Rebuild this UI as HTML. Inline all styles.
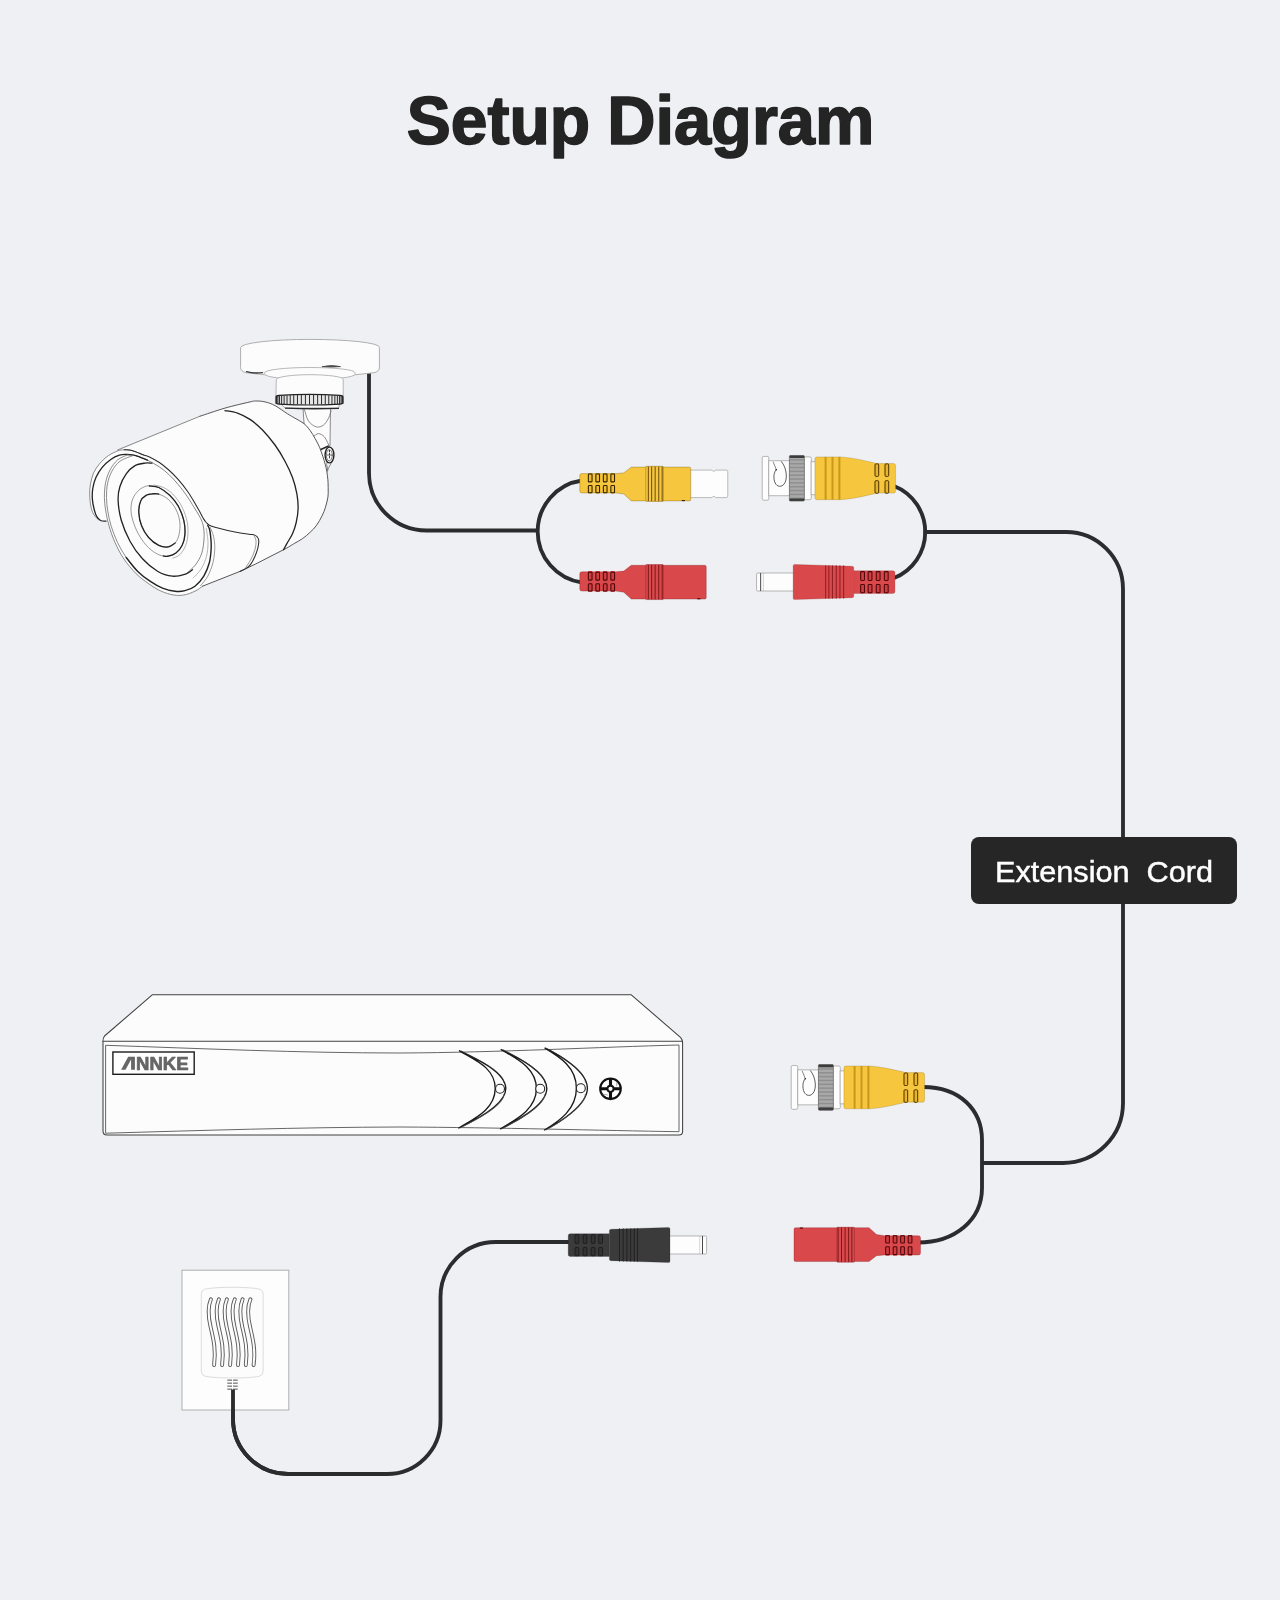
<!DOCTYPE html>
<html><head><meta charset="utf-8">
<style>
html,body{margin:0;padding:0;background:#eef0f3;}
body{width:1280px;height:1600px;overflow:hidden;font-family:"Liberation Sans",sans-serif;}
svg{display:block;position:absolute;left:0;top:0;}
</style></head><body>
<svg width="1280" height="1600" viewBox="0 0 1280 1600">
<rect width="1280" height="1600" fill="#eef0f3"/>
<!--TITLE-->
<g font-family="Liberation Sans, sans-serif" font-weight="700" font-size="68.5" fill="#242424" stroke="#242424" stroke-width="1.6" stroke-linejoin="round">
<text id="t1" transform="translate(406.8,143.6) scale(0.964,1)">Setup</text>
<text id="t2" transform="translate(607.2,143.6) scale(0.975,1)">Diagram</text>
</g>
<!--CABLES-->
<g id="cables" fill="none" stroke="#2b2c2e" stroke-width="3.85" stroke-linecap="butt" stroke-linejoin="round">
<path d="M369 373 V473 A57.5 57.5 0 0 0 426.5 530.5 H538"/>
<path d="M582 480.5 A51.5 51.5 0 0 0 582 582.5" id="loopL"/>
<path d="M894 486 A49.5 49.5 0 0 1 894 578" id="loopR"/>
<path d="M923.5 532 H1066 A57 57 0 0 1 1123 589 V1103 A60 60 0 0 1 1063 1163 H982"/>
<path d="M923 1087 C960 1087 982 1110 982 1140 V1188 C982 1220 955 1242.5 918 1242.5"/>
<path d="M233 1389 V1419 A55 55 0 0 0 288 1474 H387 A53.5 53.5 0 0 0 440.5 1420.500 V1297 A55 55 0 0 1 495.5 1242 H570"/>
</g>
<!--LABEL-->
<rect x="971" y="837" width="266" height="67" rx="8" fill="#262626"/>
<text id="lbl" transform="translate(1104,881.8) scale(1.009,1)" filter="url(#idf)" text-anchor="middle" font-family="Liberation Sans, sans-serif" font-size="30.4" fill="#fff" stroke="#fff" stroke-width="0.45" xml:space="preserve">Extension  Cord</text>
<!--CAMERA-->
<g id="cam" fill="none" stroke-linecap="round" stroke-linejoin="round"><path d="M303 408.5L304.5 430L326 472L328 470.5L326.6 464.5L330 445L330.5 408.5Z" fill="#fcfcfc" stroke="#6e6e6e" stroke-width="0.8"/><path d="M304.4 409.5C305.0 411.2 306.4 417.3 307.9 420.0C309.4 422.7 311.6 424.5 313.5 425.6C315.4 426.8 317.3 427.3 319.1 427.0C321.0 426.8 323.1 425.6 324.8 423.9C326.4 422.3 327.9 419.4 329.0 417.2C330.0 415.0 330.7 411.9 331.1 410.9" stroke="#6e6e6e" stroke-width="0.8"/><path d="M313.5 436.5C314.3 436.0 316.7 433.6 318.4 433.6C320.2 433.6 322.5 435.0 324.1 436.5C325.6 437.9 326.7 440.8 327.6 442.5C328.5 444.2 329.1 446.0 329.4 446.7" stroke="#6e6e6e" stroke-width="0.8"/><path d="M332 461.5L327 471" stroke="#6e6e6e" stroke-width="0.8"/><ellipse cx="329.5" cy="455" rx="4.4" ry="7.9" fill="#fcfcfc" stroke="#222" stroke-width="1.4"/><ellipse cx="329.3" cy="455.2" rx="3" ry="5.6" fill="none" stroke="#555" stroke-width="0.8"/><path d="M329.5 450.5V459.5" stroke="#333" stroke-width="1" stroke-dasharray="1.4 1.6"/><path d="M327.3 455H331.6" stroke="#444" stroke-width="0.8"/><path d="M320.3 449.7L328 446.3" stroke="#2a2a2a" stroke-width="1.8"/><path d="M281.5 404L339.5 404L338.6 408L285.4 408Z" fill="#fcfcfc" stroke="#6e6e6e" stroke-width="0.6"/><path d="M285.6 408.2Q312 409.2 338.4 408.4" stroke="#2a2a2a" stroke-width="1.3"/><path d="M240.6 347.2A69.4 7.8 0 0 1 379.4 347.2V367.8Q379.4 371.4 374 372.7Q310 382 246 372.7Q240.6 371.4 240.6 367.8Z" fill="#fcfcfc" stroke="#a6a6a6" stroke-width="0.9"/><path d="M264.4 372.5A45.3 5 0 0 1 355 372.5V374.2A45.3 5.4 0 0 1 264.4 374.2Z" fill="#fcfcfc" stroke="#a6a6a6" stroke-width="0.8"/><path d="M276.3 379.3A33.45 4.6 0 0 1 343.2 379.3V396H276.3Z" fill="#fcfcfc" stroke="#a6a6a6" stroke-width="0.8"/><path d="M276.2 397.2Q276.2 395.6 279 395.3Q309.5 393.3 340 395.3Q342.8 395.6 342.8 397.2V402.4Q342.8 403.9 340 404.1Q309.5 405.9 279 404.1Q276.2 403.9 276.2 402.4Z" fill="#e6e6e6" stroke="#222" stroke-width="1.25"/><path d="M276.08 395.80V403.88M276.76 395.76V403.91M277.93 395.70V403.96M279.56 395.62V404.02M281.64 395.52V404.10M284.14 395.42V404.19M287.02 395.31V404.28M290.23 395.20V404.36M293.73 395.10V404.44M297.46 395.02V404.51M301.37 394.95V404.56M305.41 394.91V404.59M309.50 394.90V404.60M313.59 394.91V404.59M317.63 394.95V404.56M321.54 395.02V404.51M325.27 395.10V404.44M328.77 395.20V404.36M331.98 395.31V404.28M334.86 395.42V404.19M337.36 395.52V404.10M339.44 395.62V404.02M341.07 395.70V403.96M342.24 395.76V403.91M342.92 395.80V403.88" stroke="#2a2a2a" stroke-width="1.0" stroke-linecap="butt"/><path d="M322.5 366.6Q331.5 364.4 340.5 366.6Q331.5 367.6 322.5 366.6Z" fill="#555" stroke="#444" stroke-width="0.8"/><path d="M246.5 371.6Q254 373.8 262.5 372.6" stroke="#3a3a3a" stroke-width="1.3"/><path d="M106.0 521.4C105.1 521.3 102.0 521.0 100.6 520.8C99.2 520.5 98.7 520.8 97.5 519.7C96.3 518.6 94.7 516.5 93.6 514.2C92.5 512.0 91.5 509.6 90.9 506.4C90.2 503.1 89.8 498.5 89.7 494.7C89.6 490.9 89.8 487.4 90.5 483.8C91.2 480.1 92.1 476.2 93.6 472.8C95.2 469.4 97.4 466.3 99.8 463.4C102.3 460.6 105.4 457.7 108.4 455.6C111.4 453.5 116.2 451.7 117.8 450.9 L167.5 430.0 L200.0 416.2L200.0 416.2C204.2 414.9 216.7 410.5 225.0 408.1C233.3 405.7 244.8 403.1 250.0 401.9C255.2 400.7 253.8 401.0 256.2 401.0C258.8 401.0 261.9 401.1 265.0 401.9C268.1 402.6 271.2 403.6 275.0 405.6C278.8 407.6 284.2 411.7 287.5 413.8C290.8 415.8 292.0 416.5 294.8 418.1C297.5 419.8 301.4 421.5 304.0 423.6C306.6 425.7 308.4 428.2 310.2 430.6C312.1 433.1 313.4 435.5 315.0 438.4C316.6 441.2 318.5 444.8 319.8 447.8C321.0 450.8 321.8 453.6 322.8 456.4C323.7 459.1 324.6 461.8 325.2 464.2C325.9 466.7 326.3 468.7 326.8 471.2C327.2 473.8 327.6 476.6 327.9 479.8C328.1 482.9 328.2 487.1 328.2 490.0C328.2 492.9 328.3 494.4 327.9 497.2C327.4 500.1 326.5 504.1 325.5 507.2C324.5 510.4 323.5 512.9 322.0 515.9C320.5 518.9 318.6 522.5 316.6 525.2C314.7 528.0 312.6 530.0 310.2 532.2C307.9 534.5 305.1 536.8 302.5 538.6C299.9 540.5 297.4 541.7 294.8 543.2C292.1 544.8 288.2 547.2 286.9 548.0 L255.6 564.0 L240.0 571.4 L202.5 586.2L202.5 586.2C201.2 587.1 198.1 589.8 195.0 591.2C191.9 592.7 187.3 594.4 183.8 595.0C180.2 595.6 177.5 595.6 173.8 595.0C170.0 594.4 165.4 593.1 161.2 591.2C157.1 589.4 152.9 586.7 148.8 583.8C144.6 580.8 140.4 577.9 136.2 573.8C132.1 569.6 127.3 564.0 123.8 558.8C120.2 553.5 117.5 548.1 115.0 542.5C112.5 536.9 110.1 528.7 108.8 525.0C107.4 521.3 107.2 521.2 106.9 520.5Z" fill="#fcfcfc" stroke="none"/><path d="M117.5 450.0 L200.0 416.2" stroke="#6e6e6e" stroke-width="0.8"/><path d="M200.0 416.2C204.2 414.9 216.7 410.5 225.0 408.1C233.3 405.7 244.8 403.1 250.0 401.9C255.2 400.7 253.8 401.0 256.2 401.0C258.8 401.0 261.9 401.1 265.0 401.9C268.1 402.6 271.2 403.6 275.0 405.6C278.8 407.6 284.2 411.7 287.5 413.8C290.8 415.8 292.0 416.5 294.8 418.1C297.5 419.8 301.4 421.5 304.0 423.6C306.6 425.7 308.4 428.2 310.2 430.6C312.1 433.1 313.4 435.5 315.0 438.4C316.6 441.2 318.5 444.8 319.8 447.8C321.0 450.8 321.8 453.6 322.8 456.4C323.7 459.1 324.6 461.8 325.2 464.2C325.9 466.7 326.3 468.7 326.8 471.2C327.2 473.8 327.6 476.6 327.9 479.8C328.1 482.9 328.2 487.1 328.2 490.0C328.2 492.9 328.3 494.4 327.9 497.2C327.4 500.1 326.5 504.1 325.5 507.2C324.5 510.4 323.5 512.9 322.0 515.9C320.5 518.9 318.6 522.5 316.6 525.2C314.7 528.0 312.6 530.0 310.2 532.2C307.9 534.5 305.1 536.8 302.5 538.6C299.9 540.5 297.4 541.7 294.8 543.2C292.1 544.8 288.2 547.2 286.9 548.0 L255.6 564.0 L240.0 571.4 L202.5 586.2" stroke="#444" stroke-width="0.9"/><path d="M225.0 410.6C227.1 411.0 233.3 411.7 237.5 413.1C241.7 414.6 245.8 416.6 250.0 419.4C254.2 422.2 258.3 425.7 262.5 430.0C266.7 434.3 271.2 439.8 275.0 445.0C278.8 450.2 282.1 455.8 285.0 461.2C287.9 466.7 290.5 472.1 292.5 477.5C294.5 482.9 295.9 488.5 296.9 493.8C297.8 499.0 298.2 504.0 298.1 508.8C298.0 513.5 297.2 518.3 296.2 522.5C295.3 526.7 294.0 530.4 292.5 533.8C291.0 537.1 289.0 539.8 287.5 542.5C286.0 545.2 284.2 548.5 283.5 549.8" stroke="#222" stroke-width="1.3"/><path d="M98.8 520.2C97.9 519.2 94.9 516.6 93.6 514.2C92.3 511.9 91.5 509.6 90.9 506.4C90.2 503.1 89.8 498.5 89.7 494.7C89.6 490.9 89.8 487.4 90.5 483.8C91.2 480.1 92.1 476.2 93.6 472.8C95.2 469.4 97.4 466.3 99.8 463.4C102.3 460.6 105.4 457.7 108.4 455.6C111.4 453.5 115.2 451.9 117.8 450.9C120.4 450.0 121.7 449.8 124.1 449.8C126.4 449.7 128.6 449.6 131.9 450.5C135.1 451.4 141.7 454.1 143.6 454.9" stroke="#6e6e6e" stroke-width="0.8"/><path d="M124.1 449.8C125.4 449.9 128.6 449.6 131.9 450.5C135.1 451.4 140.6 453.8 143.6 454.9C146.6 456.0 147.4 456.0 150.0 457.2C152.6 458.5 156.2 460.4 159.4 462.5C162.5 464.6 165.6 467.2 168.8 470.0C171.9 472.8 175.0 475.8 178.1 479.4C181.2 482.9 184.9 487.6 187.5 491.2C190.1 494.9 191.9 498.1 193.8 501.2C195.6 504.4 197.2 507.2 198.8 510.0C200.3 512.8 201.9 516.0 203.1 518.1C204.4 520.2 205.2 521.3 206.2 522.5C207.3 523.7 207.9 524.5 209.4 525.2C210.8 526.0 210.3 526.0 215.0 527.2C219.7 528.5 231.2 531.3 237.5 532.5C243.8 533.7 249.3 534.0 252.5 534.6C255.7 535.3 255.8 535.5 256.9 536.5C257.9 537.5 258.6 538.8 258.8 540.6C258.9 542.5 258.5 545.1 257.9 547.8C257.2 550.4 256.2 553.5 255.0 556.2C253.8 559.0 252.1 562.4 250.6 564.4C249.2 566.4 248.0 567.2 246.2 568.4C244.5 569.5 241.0 570.9 240.0 571.4" stroke="#2c2c2c" stroke-width="1.05"/><path d="M127.2 454.5C128.6 454.7 132.4 454.7 135.8 455.6C139.1 456.6 143.6 458.4 147.5 460.2C151.4 462.1 155.8 464.5 159.4 466.9C162.9 469.2 165.6 471.5 168.8 474.4C171.9 477.3 175.0 480.6 178.1 484.4C181.2 488.1 184.9 493.1 187.5 496.9C190.1 500.6 191.9 503.9 193.8 506.9C195.6 509.9 197.4 512.6 198.8 515.0C200.1 517.4 201.1 519.3 201.9 521.2C202.6 523.2 203.0 524.2 203.4 526.9C203.8 529.6 204.4 533.1 204.1 537.5C203.9 541.9 203.2 548.6 201.8 553.1C200.3 557.7 198.1 561.3 195.5 564.8C192.9 568.2 187.8 572.2 186.2 573.8" stroke="#6a6a6a" stroke-width="0.8"/><path d="M106.0 521.2C105.1 521.1 102.2 521.3 100.6 520.5C99.1 519.7 97.8 518.3 96.8 516.6C95.7 514.9 95.1 513.1 94.4 510.2C93.6 507.4 92.6 503.0 92.4 499.4C92.1 495.7 92.2 492.0 92.8 488.4C93.4 484.7 94.4 481.0 95.9 477.5C97.5 474.0 99.7 470.4 102.2 467.4C104.7 464.4 107.9 461.5 110.8 459.5C113.6 457.5 116.6 456.1 119.4 455.2C122.1 454.4 124.5 454.4 127.2 454.5C129.9 454.6 132.4 454.7 135.8 455.6C139.1 456.6 145.5 459.5 147.5 460.2" stroke="#222" stroke-width="1.3"/><path d="M254.0 535.8C254.3 536.6 255.8 538.4 256.0 540.6C256.2 542.9 255.8 546.4 255.0 549.4C254.2 552.4 252.9 555.6 251.2 558.8C249.6 561.9 246.2 566.9 245.2 568.5" stroke="#6e6e6e" stroke-width="0.7"/><path d="M128.1 454.6C126.4 455.5 120.5 457.4 117.5 460.0C114.5 462.6 112.0 466.2 110.0 470.0C108.0 473.8 106.6 477.9 105.6 482.5C104.7 487.1 104.4 492.9 104.4 497.5C104.4 502.1 104.9 505.4 105.6 510.0C106.4 514.6 107.2 519.6 108.8 525.0C110.3 530.4 112.5 536.9 115.0 542.5C117.5 548.1 120.2 553.5 123.8 558.8C127.3 564.0 132.1 569.6 136.2 573.8C140.4 577.9 144.6 580.8 148.8 583.8C152.9 586.7 157.1 589.4 161.2 591.2C165.4 593.1 170.0 594.4 173.8 595.0C177.5 595.6 180.2 595.6 183.8 595.0C187.3 594.4 191.9 592.7 195.0 591.2C198.1 589.8 201.2 587.1 202.5 586.2" stroke="#6e6e6e" stroke-width="0.8"/><path d="M133.8 455.2C131.5 456.2 123.6 458.6 120.0 461.2C116.4 463.9 114.0 467.5 111.9 471.2C109.8 475.0 108.4 479.4 107.5 483.8C106.6 488.1 106.5 492.9 106.5 497.5C106.5 502.1 107.0 506.5 107.8 511.2C108.5 516.0 109.6 521.0 111.2 526.2C112.9 531.5 115.0 537.3 117.5 542.5C120.0 547.7 122.9 552.7 126.2 557.5C129.6 562.3 135.6 569.0 137.5 571.2" stroke="#6e6e6e" stroke-width="0.8"/><path d="M126.2 557.5C128.1 559.8 133.5 567.3 137.5 571.2C141.5 575.2 145.8 578.4 150.0 581.2C154.2 584.1 158.3 586.5 162.5 588.1C166.7 589.8 171.2 590.8 175.0 591.2C178.8 591.7 181.7 591.5 185.0 590.6C188.3 589.8 191.9 588.6 195.0 586.2C198.1 583.9 201.4 580.2 203.8 576.2C206.1 572.3 208.1 567.3 209.4 562.5C210.6 557.7 211.0 551.9 211.2 547.5C211.5 543.1 210.9 539.4 210.6 536.2C210.3 533.1 209.9 530.5 209.4 528.8C208.9 527.0 208.0 526.0 207.8 525.5" stroke="#222" stroke-width="1.4"/><path d="M210.2 527.5C210.8 529.0 212.8 532.9 213.5 536.2C214.2 539.6 214.8 543.1 214.8 547.5C214.7 551.9 214.2 557.7 213.0 562.5C211.8 567.3 209.8 572.4 207.8 576.2C205.7 580.1 201.8 584.1 200.6 585.6" stroke="#6e6e6e" stroke-width="0.7"/><path d="M206.2 528.1C206.5 530.5 208.0 537.8 208.0 542.5C208.0 547.2 207.6 551.9 206.5 556.2C205.4 560.6 203.5 565.1 201.2 568.8C199.0 572.4 194.5 576.6 193.1 578.1" stroke="#888" stroke-width="0.6"/><path d="M151.9 463.2C150.7 463.2 147.8 462.7 145.0 463.1C142.2 463.5 138.1 463.9 135.0 465.6C131.9 467.4 128.8 470.3 126.2 473.8C123.8 477.2 121.4 481.9 120.0 486.2C118.6 490.6 117.9 494.4 118.1 500.0C118.3 505.6 119.3 513.1 121.2 520.0C123.2 526.9 126.5 534.8 130.0 541.2C133.5 547.7 137.9 553.8 142.5 558.8C147.1 563.8 152.5 568.3 157.5 571.2C162.5 574.2 167.7 575.8 172.5 576.2C177.3 576.7 182.9 574.8 186.2 573.8C189.6 572.7 191.5 570.4 192.5 569.8" stroke="#222" stroke-width="1.3"/><path d="M149.4 485.9C151.7 486.1 155.4 485.9 158.8 487.5C162.1 489.1 166.4 492.2 169.7 495.3C172.9 498.4 175.9 502.1 178.3 506.2C180.6 510.4 182.6 515.6 183.8 520.3C184.9 525.0 185.2 530.2 184.9 534.4C184.7 538.5 183.7 542.2 182.2 545.3C180.7 548.4 178.3 551.3 175.9 553.1C173.6 554.9 171.0 556.0 168.1 556.2C165.3 556.5 162.0 556.1 158.8 554.7C155.5 553.3 151.7 550.7 148.6 547.7C145.5 544.7 142.5 540.8 140.0 536.7C137.5 532.7 135.2 527.7 133.8 523.4C132.3 519.1 131.2 515.0 131.0 510.9C130.8 506.9 131.3 502.6 132.6 499.2C133.8 495.8 136.4 492.7 138.4 490.6C140.5 488.5 142.9 487.5 144.7 486.7C146.5 485.9 147.0 485.8 149.4 485.9Z" stroke="#777" stroke-width="0.75"/><path d="M149.4 485.9C150.9 486.2 155.4 485.9 158.8 487.5C162.1 489.1 166.4 492.2 169.7 495.3C172.9 498.4 175.9 502.1 178.3 506.2C180.6 510.4 182.6 515.6 183.8 520.3C184.9 525.0 185.2 530.2 184.9 534.4C184.7 538.5 183.7 542.2 182.2 545.3C180.7 548.4 178.3 551.3 175.9 553.1C173.6 554.9 170.2 555.8 168.1 556.2C166.0 556.7 164.2 556.0 163.4 555.9" stroke="#222" stroke-width="1.3"/><path d="M154.1 485.0C155.6 485.4 160.3 486.0 163.4 487.5C166.6 489.0 169.9 491.2 172.8 494.1C175.7 497.1 178.7 501.0 181.0 505.1C183.3 509.2 185.3 514.1 186.5 518.8C187.7 523.4 188.2 528.4 188.0 532.8C187.9 537.2 187.1 541.7 185.7 545.3C184.3 549.0 182.0 552.5 179.8 554.7C177.7 556.8 174.0 557.6 172.8 558.2" stroke="#888" stroke-width="0.65"/><path d="M152.5 493.8C154.6 493.6 156.1 493.2 158.8 494.1C161.4 495.1 165.3 496.7 168.1 499.2C171.0 501.8 174.0 505.6 175.9 509.4C177.9 513.2 179.3 517.7 179.8 521.9C180.4 526.0 179.8 530.9 179.1 534.4C178.3 537.9 177.0 540.9 175.2 543.0C173.3 545.1 170.9 546.5 168.1 546.9C165.4 547.3 162.0 546.9 158.8 545.3C155.5 543.8 151.5 540.8 148.6 537.5C145.7 534.2 143.2 529.9 141.6 525.8C139.9 521.6 139.0 516.7 138.8 512.5C138.7 508.3 139.5 503.6 140.8 500.8C142.0 497.9 144.3 496.5 146.2 495.3C148.2 494.1 150.4 493.9 152.5 493.8Z" stroke="#777" stroke-width="0.75"/><path d="M158.8 494.1C157.7 494.1 154.6 493.6 152.5 493.8C150.4 493.9 148.2 494.1 146.2 495.3C144.3 496.5 142.0 497.9 140.8 500.8C139.5 503.6 138.7 508.3 138.8 512.5C139.0 516.7 139.9 521.6 141.6 525.8C143.2 529.9 145.7 534.2 148.6 537.5C151.5 540.8 155.5 543.8 158.8 545.3C162.0 546.9 165.4 547.3 168.1 546.9C170.9 546.5 174.0 543.6 175.2 543.0" stroke="#222" stroke-width="1.3"/></g>
<!--CONNECTORS-->
<defs><filter id="idf" x="-5%" y="-20%" width="110%" height="140%" color-interpolation-filters="sRGB"><feOffset dx="0" dy="0"/></filter><g id="fy"><rect x="8.2" y="-10.9" width="4.5" height="2" rx="0.8" fill="#f6c63e"/><rect x="8.2" y="7.8" width="4.5" height="2" rx="0.8" fill="#f6c63e"/><rect x="15.700000000000001" y="-10.9" width="4.5" height="2" rx="0.8" fill="#f6c63e"/><rect x="15.700000000000001" y="7.8" width="4.5" height="2" rx="0.8" fill="#f6c63e"/><rect x="23.200000000000003" y="-10.9" width="4.5" height="2" rx="0.8" fill="#f6c63e"/><rect x="23.200000000000003" y="7.8" width="4.5" height="2" rx="0.8" fill="#f6c63e"/><rect x="30.700000000000003" y="-10.9" width="4.5" height="2" rx="0.8" fill="#f6c63e"/><rect x="30.700000000000003" y="7.8" width="4.5" height="2" rx="0.8" fill="#f6c63e"/><path d="M2 -10.2H36L44 -10.9L51.5 -16.7H109.5Q111 -16.7 111 -15.2V15.6Q111 17.1 109.5 17.1H51.5L44 10.2L36 9.1H2Q0 9.1 0 7.1V-8.2Q0 -10.2 2 -10.2Z" fill="#f6c63e" stroke="#4f3803" stroke-width="0.5" stroke-opacity="0.55"/><rect x="66" y="-17.5" width="17.6" height="35.1" rx="0.8" fill="#f6c63e" stroke="#4f3803" stroke-width="0.5" stroke-opacity="0.6"/><path d="M68.6 -17.2V17.3" stroke="#4f3803" stroke-width="0.85"/><path d="M71.9 -17.2V17.3" stroke="#4f3803" stroke-width="0.85"/><path d="M75.4 -17.2V17.3" stroke="#4f3803" stroke-width="0.85"/><path d="M79.0 -17.2V17.3" stroke="#4f3803" stroke-width="0.85"/><path d="M82.4 -17.2V17.3" stroke="#4f3803" stroke-width="0.85"/><rect x="8.6" y="-9.7" width="3.7" height="7.8" rx="0.7" fill="#efbb30" stroke="#2e2000" stroke-width="1.05"/><rect x="8.6" y="1.8" width="3.7" height="7.2" rx="0.7" fill="#efbb30" stroke="#2e2000" stroke-width="1.05"/><rect x="16.1" y="-9.7" width="3.7" height="7.8" rx="0.7" fill="#efbb30" stroke="#2e2000" stroke-width="1.05"/><rect x="16.1" y="1.8" width="3.7" height="7.2" rx="0.7" fill="#efbb30" stroke="#2e2000" stroke-width="1.05"/><rect x="23.6" y="-9.7" width="3.7" height="7.8" rx="0.7" fill="#efbb30" stroke="#2e2000" stroke-width="1.05"/><rect x="23.6" y="1.8" width="3.7" height="7.2" rx="0.7" fill="#efbb30" stroke="#2e2000" stroke-width="1.05"/><rect x="31.1" y="-9.7" width="3.7" height="7.8" rx="0.7" fill="#efbb30" stroke="#2e2000" stroke-width="1.05"/><rect x="31.1" y="1.8" width="3.7" height="7.2" rx="0.7" fill="#efbb30" stroke="#2e2000" stroke-width="1.05"/><rect x="102" y="16.2" width="3.2" height="1.1" fill="#2e2000"/></g><g id="fr"><rect x="8.2" y="-10.9" width="4.5" height="2" rx="0.8" fill="#d9484b"/><rect x="8.2" y="7.8" width="4.5" height="2" rx="0.8" fill="#d9484b"/><rect x="15.700000000000001" y="-10.9" width="4.5" height="2" rx="0.8" fill="#d9484b"/><rect x="15.700000000000001" y="7.8" width="4.5" height="2" rx="0.8" fill="#d9484b"/><rect x="23.200000000000003" y="-10.9" width="4.5" height="2" rx="0.8" fill="#d9484b"/><rect x="23.200000000000003" y="7.8" width="4.5" height="2" rx="0.8" fill="#d9484b"/><rect x="30.700000000000003" y="-10.9" width="4.5" height="2" rx="0.8" fill="#d9484b"/><rect x="30.700000000000003" y="7.8" width="4.5" height="2" rx="0.8" fill="#d9484b"/><path d="M2 -10.2H36L44 -10.9L51.5 -16.7H125.0Q126.5 -16.7 126.5 -15.2V15.6Q126.5 17.1 125.0 17.1H51.5L44 10.2L36 9.1H2Q0 9.1 0 7.1V-8.2Q0 -10.2 2 -10.2Z" fill="#d9484b" stroke="#6e0f13" stroke-width="0.5" stroke-opacity="0.55"/><rect x="66" y="-17.5" width="17.6" height="35.1" rx="0.8" fill="#d9484b" stroke="#6e0f13" stroke-width="0.5" stroke-opacity="0.6"/><path d="M68.6 -17.2V17.3" stroke="#6e0f13" stroke-width="0.85"/><path d="M71.9 -17.2V17.3" stroke="#6e0f13" stroke-width="0.85"/><path d="M75.4 -17.2V17.3" stroke="#6e0f13" stroke-width="0.85"/><path d="M79.0 -17.2V17.3" stroke="#6e0f13" stroke-width="0.85"/><path d="M82.4 -17.2V17.3" stroke="#6e0f13" stroke-width="0.85"/><rect x="8.6" y="-9.7" width="3.7" height="7.8" rx="0.7" fill="#d03d41" stroke="#4d070a" stroke-width="1.05"/><rect x="8.6" y="1.8" width="3.7" height="7.2" rx="0.7" fill="#d03d41" stroke="#4d070a" stroke-width="1.05"/><rect x="16.1" y="-9.7" width="3.7" height="7.8" rx="0.7" fill="#d03d41" stroke="#4d070a" stroke-width="1.05"/><rect x="16.1" y="1.8" width="3.7" height="7.2" rx="0.7" fill="#d03d41" stroke="#4d070a" stroke-width="1.05"/><rect x="23.6" y="-9.7" width="3.7" height="7.8" rx="0.7" fill="#d03d41" stroke="#4d070a" stroke-width="1.05"/><rect x="23.6" y="1.8" width="3.7" height="7.2" rx="0.7" fill="#d03d41" stroke="#4d070a" stroke-width="1.05"/><rect x="31.1" y="-9.7" width="3.7" height="7.8" rx="0.7" fill="#d03d41" stroke="#4d070a" stroke-width="1.05"/><rect x="31.1" y="1.8" width="3.7" height="7.2" rx="0.7" fill="#d03d41" stroke="#4d070a" stroke-width="1.05"/><rect x="117.5" y="16.2" width="3.2" height="1.1" fill="#4d070a"/></g><g id="my"><rect x="0.3" y="-21.9" width="6.6" height="43.8" rx="1.6" fill="#fdfdfd" stroke="#9a9a9a" stroke-width="0.7"/><rect x="6.9" y="-17.5" width="21" height="35" fill="#fdfdfd" stroke="#9a9a9a" stroke-width="0.7"/><path d="M11.2 -16.6C12.5 -13.5 13.6 -11 14.3 -8.6" fill="none" stroke="#555" stroke-width="0.7"/><path d="M19.3 -17C23 -12.5 24.6 -6.5 24.4 -1.5C24.2 4.5 21.3 8.2 17.6 8C13.8 7.6 11.6 3.2 12.1 -3C12.4 -5.6 13.3 -7.6 14.3 -8.6" fill="none" stroke="#333" stroke-width="0.8"/><circle cx="14.4" cy="-8.6" r="0.8" fill="#222"/><rect x="42" y="-21.4" width="7.4" height="42.8" rx="1.5" fill="#fdfdfd" stroke="#9a9a9a" stroke-width="0.7"/><rect x="49.2" y="-16.5" width="5" height="33" fill="#fdfdfd" stroke="#9a9a9a" stroke-width="0.7"/><rect x="27.5" y="-22.8" width="15" height="45.6" rx="1" fill="#a9a9a9"/><rect x="27.9" y="-19.20" width="14.2" height="1.5" fill="#8f8f8f"/><rect x="27.9" y="-15.36" width="14.2" height="1.5" fill="#8f8f8f"/><rect x="27.9" y="-11.52" width="14.2" height="1.5" fill="#8f8f8f"/><rect x="27.9" y="-7.68" width="14.2" height="1.5" fill="#8f8f8f"/><rect x="27.9" y="-3.84" width="14.2" height="1.5" fill="#8f8f8f"/><rect x="27.9" y="0.00" width="14.2" height="1.5" fill="#8f8f8f"/><rect x="27.9" y="3.84" width="14.2" height="1.5" fill="#8f8f8f"/><rect x="27.9" y="7.68" width="14.2" height="1.5" fill="#8f8f8f"/><rect x="27.9" y="11.52" width="14.2" height="1.5" fill="#8f8f8f"/><rect x="27.9" y="15.36" width="14.2" height="1.5" fill="#8f8f8f"/><rect x="27.9" y="19.20" width="14.2" height="1.5" fill="#8f8f8f"/><rect x="27.5" y="-22.8" width="15" height="2.6" rx="1" fill="#3c3c3c"/><rect x="27.5" y="20.2" width="15" height="2.6" rx="1" fill="#3c3c3c"/><rect x="27.5" y="-22.8" width="15" height="45.6" rx="1" fill="none" stroke="#555" stroke-width="0.6"/><path d="M55 -21.4H79C92 -20.5 103 -17.5 112 -15.6L114 -14.8H131.5Q133.7 -14.8 133.7 -12.6V12.6Q133.7 14.8 131.5 14.8H114L112 15.6C103 17.5 92 20.5 79 21.4H55Q53 21.4 53 19.4V-19.4Q53 -21.4 55 -21.4Z" fill="#f6c63e" stroke="#6b4d05" stroke-width="0.4" stroke-opacity="0.5"/><rect x="62.7" y="-21.4" width="2" height="42.8" fill="#c8981c"/><rect x="69.6" y="-21.4" width="2" height="42.8" fill="#c8981c"/><rect x="76.5" y="-21.4" width="2" height="42.8" fill="#c8981c"/><rect x="113.1" y="-14.4" width="3.7" height="12.5" rx="1" fill="#e9b42c" stroke="#4a3300" stroke-width="1.0"/><rect x="113.1" y="2.4" width="3.7" height="12.5" rx="1" fill="#e9b42c" stroke="#4a3300" stroke-width="1.0"/><rect x="123.1" y="-14.4" width="3.7" height="12.5" rx="1" fill="#e9b42c" stroke="#4a3300" stroke-width="1.0"/><rect x="123.1" y="2.4" width="3.7" height="12.5" rx="1" fill="#e9b42c" stroke="#4a3300" stroke-width="1.0"/></g><g id="mr"><rect x="0.3" y="-9" width="37.5" height="18" rx="1.2" fill="#fdfdfd" stroke="#9a9a9a" stroke-width="0.7"/><path d="M4.4 -9V9" stroke="#333" stroke-width="0.9"/><path d="M7.2 -9V9" stroke="#bbb" stroke-width="0.6"/><path d="M38.4 -17.6L96 -15.7Q97.5 -15.6 97.5 -14.2V14.2Q97.5 15.6 96 15.7L38.4 17.6Q36.9 17.6 36.9 16.1V-16.1Q36.9 -17.6 38.4 -17.6Z" fill="#d9484b" stroke="#7a1216" stroke-width="0.4" stroke-opacity="0.5"/><path d="M69.4 -16.6V16.6" stroke="#7a1216" stroke-width="0.8"/><path d="M72.6 -16.6V16.6" stroke="#7a1216" stroke-width="0.8"/><path d="M76.2 -16.6V16.6" stroke="#7a1216" stroke-width="0.8"/><path d="M80 -16.6V16.6" stroke="#7a1216" stroke-width="0.8"/><path d="M83.7 -16.6V16.6" stroke="#7a1216" stroke-width="0.8"/><path d="M87.4 -16.6V16.6" stroke="#7a1216" stroke-width="0.8"/><path d="M97.5 -11.3H136.7Q138.7 -11.3 138.7 -9.3V9.5Q138.7 11.5 136.7 11.5H97.5Z" fill="#d9484b" stroke="#7a1216" stroke-width="0.4" stroke-opacity="0.5"/><rect x="104.4" y="-10.4" width="3.8" height="8.8" rx="0.8" fill="#d03d41" stroke="#4d070a" stroke-width="1.05"/><rect x="104.4" y="2.4" width="3.8" height="8.3" rx="0.8" fill="#d03d41" stroke="#4d070a" stroke-width="1.05"/><rect x="111.9" y="-10.4" width="3.8" height="8.8" rx="0.8" fill="#d03d41" stroke="#4d070a" stroke-width="1.05"/><rect x="111.9" y="2.4" width="3.8" height="8.3" rx="0.8" fill="#d03d41" stroke="#4d070a" stroke-width="1.05"/><rect x="120" y="-10.4" width="3.8" height="8.8" rx="0.8" fill="#d03d41" stroke="#4d070a" stroke-width="1.05"/><rect x="120" y="2.4" width="3.8" height="8.3" rx="0.8" fill="#d03d41" stroke="#4d070a" stroke-width="1.05"/><rect x="128.1" y="-10.4" width="3.8" height="8.8" rx="0.8" fill="#d03d41" stroke="#4d070a" stroke-width="1.05"/><rect x="128.1" y="2.4" width="3.8" height="8.3" rx="0.8" fill="#d03d41" stroke="#4d070a" stroke-width="1.05"/></g><g id="mk"><rect x="0.3" y="-9" width="37.5" height="18" rx="1.2" fill="#fdfdfd" stroke="#9a9a9a" stroke-width="0.7"/><path d="M4.4 -9V9" stroke="#333" stroke-width="0.9"/><path d="M7.2 -9V9" stroke="#bbb" stroke-width="0.6"/><path d="M38.4 -17.6L96 -15.7Q97.5 -15.6 97.5 -14.2V14.2Q97.5 15.6 96 15.7L38.4 17.6Q36.9 17.6 36.9 16.1V-16.1Q36.9 -17.6 38.4 -17.6Z" fill="#3b3b3b" stroke="#1c1c1c" stroke-width="0.4" stroke-opacity="0.5"/><path d="M69.4 -16.6V16.6" stroke="#1c1c1c" stroke-width="0.8"/><path d="M72.6 -16.6V16.6" stroke="#1c1c1c" stroke-width="0.8"/><path d="M76.2 -16.6V16.6" stroke="#1c1c1c" stroke-width="0.8"/><path d="M80 -16.6V16.6" stroke="#1c1c1c" stroke-width="0.8"/><path d="M83.7 -16.6V16.6" stroke="#1c1c1c" stroke-width="0.8"/><path d="M87.4 -16.6V16.6" stroke="#1c1c1c" stroke-width="0.8"/><path d="M97.5 -11.3H136.7Q138.7 -11.3 138.7 -9.3V9.5Q138.7 11.5 136.7 11.5H97.5Z" fill="#3b3b3b" stroke="#1c1c1c" stroke-width="0.4" stroke-opacity="0.5"/><rect x="104.4" y="-10.4" width="3.8" height="8.8" rx="0.8" fill="#333333" stroke="#1c1c1c" stroke-width="0.9"/><rect x="104.4" y="2.4" width="3.8" height="8.3" rx="0.8" fill="#333333" stroke="#1c1c1c" stroke-width="0.9"/><rect x="111.9" y="-10.4" width="3.8" height="8.8" rx="0.8" fill="#333333" stroke="#1c1c1c" stroke-width="0.9"/><rect x="111.9" y="2.4" width="3.8" height="8.3" rx="0.8" fill="#333333" stroke="#1c1c1c" stroke-width="0.9"/><rect x="120" y="-10.4" width="3.8" height="8.8" rx="0.8" fill="#333333" stroke="#1c1c1c" stroke-width="0.9"/><rect x="120" y="2.4" width="3.8" height="8.3" rx="0.8" fill="#333333" stroke="#1c1c1c" stroke-width="0.9"/><rect x="128.1" y="-10.4" width="3.8" height="8.8" rx="0.8" fill="#333333" stroke="#1c1c1c" stroke-width="0.9"/><rect x="128.1" y="2.4" width="3.8" height="8.3" rx="0.8" fill="#333333" stroke="#1c1c1c" stroke-width="0.9"/></g></defs><g transform="translate(579.75,483.8)"><path d="M110 -13.7H132L133 -12.7H135L136 -13.7H146.5Q148 -13.7 148 -12.2V12.3Q148 13.8 146.5 13.8H136L135 12.8H133L132 13.8H110Z" fill="#fdfdfd" stroke="#a0a0a0" stroke-width="0.7"/><use href="#fy"/></g><use href="#fr" transform="translate(579.75,582)"/><use href="#my" transform="translate(761.9,478.3)"/><use href="#mr" transform="translate(756.25,582)"/><use href="#my" transform="translate(790.9,1087.4)"/><use href="#fr" transform="translate(920.5,1244.8) rotate(180)"/><use href="#mk" transform="translate(706.9,1245) scale(-1,1)"/>
<!--DVR-->
<g id="dvr" stroke-linejoin="round" stroke-linecap="round"><path d="M152.5 994.7H631L680.5 1037.3Q682.6 1039.5 682.6 1043V1131.5Q682.6 1135 679 1135H107Q103 1135 103 1131V1043Q102.6 1038.5 104.5 1036Z" fill="#fcfcfc" stroke="#404040" stroke-width="1.05"/><path d="M103.3 1041.3H682" fill="none" stroke="#404040" stroke-width="1.05"/><path d="M106 1045.3C200 1048.5 300 1053 400 1053C500 1052.5 600 1047 679 1045V1131.7C600 1130.5 500 1127.5 400 1127C300 1127.3 200 1130.5 106 1133.2Z" fill="none" stroke="#555" stroke-width="0.9"/><path d="M459.5 1050.8C473.5 1057.3 505.8 1071.6 505.8 1088.6C505.8 1105.6 472.8 1121.5 458.8 1128C473.8 1119 495.2 1109.6 495.2 1088.6C495.2 1067.6 474.5 1059.8 459.5 1050.8Z" fill="#fcfcfc" stroke="#1a1a1a" stroke-width="1.35"/><path d="M461.5 1051.0C474.5 1058.3 503.90000000000003 1070.6 503.8 1082.6" fill="none" stroke="#333" stroke-width="0.6"/><path d="M460.8 1127.8C473.8 1120.5 503.90000000000003 1106.6 503.8 1094.6" fill="none" stroke="#555" stroke-width="0.8"/><path d="M501.2 1049.6C515.2 1056.1 546.8 1071.6 546.8 1088.6C546.8 1105.6 514.5 1122.3 500.5 1128.8C515.5 1119.8 536.4 1109.6 536.4 1088.6C536.4 1067.6 516.2 1058.6 501.2 1049.6Z" fill="#fcfcfc" stroke="#1a1a1a" stroke-width="1.35"/><path d="M503.2 1049.8C516.2 1057.1 544.9 1070.6 544.8 1082.6" fill="none" stroke="#333" stroke-width="0.6"/><path d="M502.5 1128.6C515.5 1121.3 544.9 1106.6 544.8 1094.6" fill="none" stroke="#555" stroke-width="0.8"/><path d="M545 1048.2C559 1054.7 587.4 1071.2 587.4 1088.2C587.4 1105.2 558.5 1123.5 544.5 1130C559.5 1121 576.4 1109.2 576.4 1088.2C576.4 1067.2 560 1057.2 545 1048.2Z" fill="#fcfcfc" stroke="#1a1a1a" stroke-width="1.35"/><path d="M547 1048.4C560 1055.7 585.5 1070.2 585.4 1082.2" fill="none" stroke="#333" stroke-width="0.6"/><path d="M546.5 1129.8C559.5 1122.5 585.5 1106.2 585.4 1094.2" fill="none" stroke="#555" stroke-width="0.8"/><circle cx="500" cy="1088.8" r="4.5" fill="#fcfcfc" stroke="#222" stroke-width="1.1"/><circle cx="540.2" cy="1088.8" r="4.5" fill="#fcfcfc" stroke="#222" stroke-width="1.1"/><circle cx="580.8" cy="1088.3" r="4.5" fill="#fcfcfc" stroke="#222" stroke-width="1.1"/><g transform="translate(610.5,1088.8)"><circle r="10.3" fill="#fff" stroke="#111" stroke-width="2.1"/><path d="M-10 0H10M0 -10V10" stroke="#111" stroke-width="3.1" stroke-linecap="butt"/><circle r="4" fill="#111"/><circle r="2.1" fill="#fff"/><path d="M-8 5.2L-3 6.2M6.2 -6V-3" stroke="#555" stroke-width="0.5"/></g><rect x="112.9" y="1052" width="81.3" height="22.3" fill="#fdfdfd" stroke="#1c1c1c" stroke-width="1.4" stroke-linejoin="miter"/><path d="M121.1 1069.7L128.2 1056.8H134.9V1069.7H131.1V1059.6L125.5 1069.7Z" fill="#666" stroke="none"/><text x="136.1" y="1069.7" font-family="Liberation Sans, sans-serif" font-weight="700" font-size="18" fill="#666" stroke="#666" stroke-width="0.7" textLength="52.5" lengthAdjust="spacingAndGlyphs" filter="url(#idf)">NNKE</text></g>
<!--OUTLET-->
<g id="outlet"><rect x="182" y="1270.2" width="106.8" height="139.8" fill="#fdfdfd" stroke="#a8a8a8" stroke-width="0.9"/><path d="M204.5 1289.3C215 1286.6 250 1286.6 260 1289.3Q263.2 1290.3 263.2 1294V1371Q263.2 1375.3 259.5 1376.2C250 1378.6 215 1378.6 205 1376.2Q201.3 1375.3 201.3 1371V1294Q201.3 1290.3 204.5 1289.3Z" fill="#fcfcfc" stroke="#dcdcdc" stroke-width="1"/><path d="M210.9 1299.3C207.5 1307 208.3 1317 210.6 1327C213.4 1339 216.20000000000002 1350 214.1 1365" fill="none" stroke="#5c5c5c" stroke-width="3.9" stroke-linecap="round"/><path d="M210.9 1299.3C207.5 1307 208.3 1317 210.6 1327C213.4 1339 216.20000000000002 1350 214.1 1365" fill="none" stroke="#fcfcfc" stroke-width="2.0" stroke-linecap="round"/><path d="M218.9 1299.3C215.5 1307 216.3 1317 218.6 1327C221.4 1339 224.20000000000002 1350 222.1 1365" fill="none" stroke="#5c5c5c" stroke-width="3.9" stroke-linecap="round"/><path d="M218.9 1299.3C215.5 1307 216.3 1317 218.6 1327C221.4 1339 224.20000000000002 1350 222.1 1365" fill="none" stroke="#fcfcfc" stroke-width="2.0" stroke-linecap="round"/><path d="M226.9 1299.3C223.5 1307 224.3 1317 226.6 1327C229.4 1339 232.20000000000002 1350 230.1 1365" fill="none" stroke="#5c5c5c" stroke-width="3.9" stroke-linecap="round"/><path d="M226.9 1299.3C223.5 1307 224.3 1317 226.6 1327C229.4 1339 232.20000000000002 1350 230.1 1365" fill="none" stroke="#fcfcfc" stroke-width="2.0" stroke-linecap="round"/><path d="M234.8 1299.3C231.4 1307 232.20000000000002 1317 234.5 1327C237.3 1339 240.10000000000002 1350 238.0 1365" fill="none" stroke="#5c5c5c" stroke-width="3.9" stroke-linecap="round"/><path d="M234.8 1299.3C231.4 1307 232.20000000000002 1317 234.5 1327C237.3 1339 240.10000000000002 1350 238.0 1365" fill="none" stroke="#fcfcfc" stroke-width="2.0" stroke-linecap="round"/><path d="M242.6 1299.3C239.2 1307 240.0 1317 242.29999999999998 1327C245.1 1339 247.9 1350 245.79999999999998 1365" fill="none" stroke="#5c5c5c" stroke-width="3.9" stroke-linecap="round"/><path d="M242.6 1299.3C239.2 1307 240.0 1317 242.29999999999998 1327C245.1 1339 247.9 1350 245.79999999999998 1365" fill="none" stroke="#fcfcfc" stroke-width="2.0" stroke-linecap="round"/><path d="M250.4 1299.3C247.0 1307 247.8 1317 250.1 1327C252.9 1339 255.70000000000002 1350 253.6 1365" fill="none" stroke="#5c5c5c" stroke-width="3.9" stroke-linecap="round"/><path d="M250.4 1299.3C247.0 1307 247.8 1317 250.1 1327C252.9 1339 255.70000000000002 1350 253.6 1365" fill="none" stroke="#fcfcfc" stroke-width="2.0" stroke-linecap="round"/><rect x="227.3" y="1378.6" width="10.4" height="12" fill="#fdfdfd"/><path d="M227.3 1380.2H237.7" stroke="#8a8a8a" stroke-width="1.5"/><path d="M227.3 1383.2H237.7" stroke="#8a8a8a" stroke-width="1.5"/><path d="M227.3 1386.2H237.7" stroke="#8a8a8a" stroke-width="1.5"/><path d="M227.3 1389.2H237.7" stroke="#8a8a8a" stroke-width="1.5"/><path d="M232.5 1378.6V1391" stroke="#fdfdfd" stroke-width="1"/></g>
<path d="M233 1389.5V1419A55 55 0 0 0 288 1474" fill="none" stroke="#2b2c2e" stroke-width="3.85"/>
</svg>
</body></html>
